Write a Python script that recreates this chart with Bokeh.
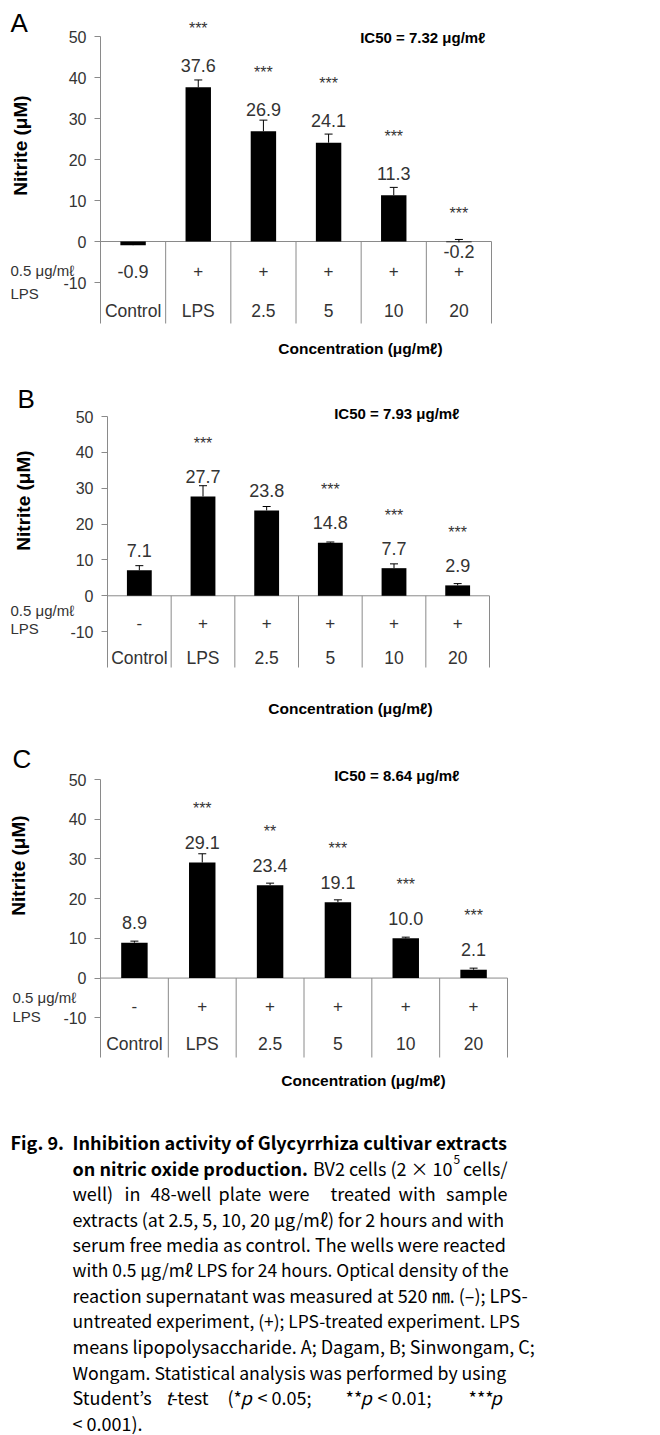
import math
from bokeh.plotting import figure
from bokeh.layouts import column
from bokeh.models import Range1d, FixedTicker, LabelSet, Whisker, TeeHead, ColumnDataSource
from bokeh.embed import file_html
from bokeh.resources import INLINE
from bokeh.core.properties import value

# ---------------- data ----------------
categories = ["Control", "LPS", "2.5", "5", "10", "20"]
ticks = [-10, 0, 10, 20, 30, 40, 50]

a_values = [-0.9, 37.6, 26.9, 24.1, 11.3, -0.2]
a_errors = [0.6, 1.8, 2.7, 2.1, 1.9, 0.7]
a_marks = ["", "+", "+", "+", "+", "+"]
a_stars = ["", "***", "***", "***", "***", "***"]
a_ic50 = "IC50 = 7.32 μg/mℓ"

b_values = [7.1, 27.7, 23.8, 14.8, 7.7, 2.9]
b_errors = [1.3, 3.0, 1.1, 0.2, 1.2, 0.5]
b_marks = ["-", "+", "+", "+", "+", "+"]
b_stars = ["", "***", "", "***", "***", "***"]
b_ic50 = "IC50 = 7.93 μg/mℓ"

c_values = [8.9, 29.1, 23.4, 19.1, 10.0, 2.1]
c_errors = [0.4, 2.2, 0.5, 0.6, 0.3, 0.4]
c_marks = ["-", "+", "+", "+", "+", "+"]
c_stars = ["", "***", "**", "***", "***", "***"]
c_ic50 = "IC50 = 8.64 μg/mℓ"

y_title = "Nitrite (μM)"
x_title = "Concentration (μg/mℓ)"
dose_line1 = "0.5 μg/mℓ"
dose_line2 = "LPS"

# caption: per line (font px, [(text, x in page px | "sup" | "r" | "rsup", style)])
caption = [
    (18.1, [("Fig. 9.", 10, "bold"), ("Inhibition activity of Glycyrrhiza cultivar extracts", 72, "bold")]),
    (18.0, [("on nitric oxide production.", 72, "bold"), ("BV2 cells (2 × 10", "rsup", "normal"),
            ("5", "sup", "normal"), ("cells/", "r", "normal")]),
    (18.0, [("well)", 72, "normal"), ("in", 124, "normal"), ("48-well", 150, "normal"), ("plate", 218, "normal"),
            ("were", 268, "normal"), ("treated", 330, "normal"), ("with", 398, "normal"), ("sample", "r", "normal")]),
    (17.9, [("extracts (at 2.5, 5, 10, 20 μg/mℓ) for 2 hours and with", 72, "normal")]),
    (18.0, [("serum free media as control. The wells were reacted", 72, "normal")]),
    (17.4, [("with 0.5 μg/mℓ LPS for 24 hours. Optical density of the", 72, "normal")]),
    (18.0, [("reaction supernatant was measured at 520 ㎚. (–); LPS-", 72, "normal")]),
    (17.4, [("untreated experiment, (+); LPS-treated experiment. LPS", 72, "normal")]),
    (18.0, [("means lipopolysaccharide. A; Dagam, B; Sinwongam, C;", 72, "normal")]),
    (17.7, [("Wongam. Statistical analysis was performed by using", 72, "normal")]),
    (18.0, [("Student’s", 72, "normal"), ("t", 165, "italic"), ("-test", 171, "normal"),
            ("(*", 227, "normal"), ("p", 240, "italic"), ("< 0.05;", 257, "normal"),
            ("**", 345, "normal"), ("p", 360, "italic"), ("< 0.01;", 377, "normal"),
            ("***", 468, "normal"), ("p", 490, "italic")]),
    (18.0, [("< 0.001).", 72, "normal")]),
]

FONT = "Liberation Sans"
CAP_FONT = "Noto Sans CJK KR"
GRAY = "#8a8a8a"
TXT = "#333333"
W = 660

# page-pixel geometry of each panel: plot box = (x of 0, x of last boundary, y of 50, y of -20)
GEOM = {
    "A": dict(page_top=0, H=362, plot=(100, 491, 36, 323), letter=(10, 22), ic50=(485, 37),
              ylab=(20, 145), dose=(10, 270), lps=(10, 293), marks_y=270, cats_y=310, conc=(360, 348),
              lab_off=[-26, 22, 22, 22, 22, -9], star_off=[59, 59, 59, 59, 59, 28]),
    "B": dict(page_top=362, H=368, plot=(107, 489, 416, 667), letter=(17, 398), ic50=(459, 413),
              ylab=(23, 500), dose=(10, 610), lps=(10, 628), marks_y=622, cats_y=657, conc=(350, 708),
              lab_off=[20] * 6, star_off=[53] * 6),
    "C": dict(page_top=730, H=370, plot=(100, 507, 779, 1057), letter=(12, 758), ic50=(459, 775),
              ylab=(18, 865), dose=(12, 997), lps=(12, 1016), marks_y=1005, cats_y=1043, conc=(363, 1080),
              lab_off=[20] * 6, star_off=[54] * 6),
}


def make_panel(letter, vals, errs, marks, stars, ic50, g):
    n = len(categories)
    H = g["H"]
    ox, xn, y50, ym20 = g["plot"]
    sx = (xn - ox) / n
    sy = (ym20 - y50) / 70.0
    ty = y50 - g["page_top"]
    p = figure(width=W, height=H,
               x_range=Range1d(-ox / sx, (W - ox) / sx),
               y_range=Range1d(50 - (H - ty) / sy, 50 + ty / sy),
               output_backend="svg", toolbar_location=None, x_axis_location=None,
               min_border=0)
    p.outline_line_color = None
    p.grid.visible = False

    def X(px):
        return (px - ox) / sx

    def Y(py):
        return 50 - (py - g["page_top"] - ty) / sy

    yax = p.yaxis[0]
    yax.fixed_location = 0
    yax.ticker = FixedTicker(ticks=ticks)
    yax.major_label_overrides = {t: str(t) for t in ticks}
    yax.axis_line_color = None
    yax.major_tick_line_color = GRAY
    yax.major_tick_out = 6
    yax.major_tick_in = 0
    yax.minor_tick_line_color = None
    yax.major_label_standoff = 8
    yax.major_label_text_font = FONT
    yax.major_label_text_font_size = "16px"
    yax.major_label_text_color = TXT

    xs = [i + 0.5 for i in range(n)]
    bounds = list(range(1, n + 1))
    p.segment(x0=[0], y0=[-20], x1=[0], y1=[50], line_color=GRAY, line_width=1)
    p.segment(x0=[0], y0=[0], x1=[n], y1=[0], line_color=GRAY, line_width=1)
    p.segment(x0=bounds, y0=[0] * n, x1=bounds, y1=[-20] * n, line_color=GRAY, line_width=1)

    p.vbar(x=xs, top=vals, bottom=0, width=0.39, fill_color="black", line_color=None)

    wsrc = ColumnDataSource(dict(x=xs, lower=vals, upper=[v + e for v, e in zip(vals, errs)]))
    p.add_layout(Whisker(base="x", lower="lower", upper="upper", source=wsrc, dimension="height",
                         line_color="black", line_width=1, level="glyph",
                         upper_head=TeeHead(size=8, line_color="black", line_width=1), lower_head=None))

    lsrc = ColumnDataSource(dict(x=xs, y=vals, text=[f"{v:.1f}" for v in vals], off=g["lab_off"]))
    p.add_layout(LabelSet(x="x", y="y", text="text", y_offset="off", source=lsrc,
                          text_align="center", text_baseline="middle", text_font=value(FONT),
                          text_font_size="18px", text_color=TXT))
    ssrc = ColumnDataSource(dict(x=xs, y=[max(v, 0) for v in vals], text=stars, off=g["star_off"]))
    p.add_layout(LabelSet(x="x", y="y", text="text", y_offset="off", source=ssrc,
                          text_align="center", text_baseline="middle", text_font=value(FONT),
                          text_font_size="16px", text_color=TXT))

    def txt(x, y, t, size, align="center", bold=False, color=TXT, angle=0.0):
        p.text(x=[x], y=[y], text=[t], angle=angle, text_align=align, text_baseline="middle",
               text_font=value(FONT), text_font_size=size,
               text_font_style="bold" if bold else "normal", text_color=color)

    p.text(x=xs, y=[Y(g["marks_y"])] * n, text=marks, text_align="center", text_baseline="middle",
           text_font=value(FONT), text_font_size="17px", text_color=TXT)
    p.text(x=xs, y=[Y(g["cats_y"])] * n, text=categories, text_align="center", text_baseline="middle",
           text_font=value(FONT), text_font_size="17.5px", text_color=TXT)

    txt(X(g["letter"][0]), Y(g["letter"][1]), letter, "26px", align="left", color="black")
    txt(X(g["ic50"][0]), Y(g["ic50"][1]), ic50, "15px", align="right", bold=True, color="black")
    txt(X(g["ylab"][0]), Y(g["ylab"][1]), y_title, "19px", bold=True, color="black", angle=math.pi / 2)
    txt(X(g["dose"][0]), Y(g["dose"][1]), dose_line1, "15px", align="left")
    txt(X(g["lps"][0]), Y(g["lps"][1]), dose_line2, "15px", align="left")
    txt(X(g["conc"][0]), Y(g["conc"][1]), x_title, "15.5px", bold=True, color="black")
    return p


pA = make_panel("A", a_values, a_errors, a_marks, a_stars, a_ic50, GEOM["A"])
pB = make_panel("B", b_values, b_errors, b_marks, b_stars, b_ic50, GEOM["B"])
pC = make_panel("C", c_values, c_errors, c_marks, c_stars, c_ic50, GEOM["C"])

# ---------------- caption ----------------
CAP_TOP = 1100
CH = 1435 - CAP_TOP
pc = figure(width=W, height=CH, x_range=Range1d(0, W), y_range=Range1d(CH, 0),
            output_backend="svg", toolbar_location=None, x_axis_location=None, y_axis_location=None,
            min_border=0)
pc.outline_line_color = None
pc.grid.visible = False
for i, (fsize, segs) in enumerate(caption):
    base = 1141.5 + 25.5 * i - CAP_TOP
    for t, xpos, style in segs:
        size = f"{fsize}px"
        align = "left"
        yy = base
        if xpos == "sup":
            xpos, size, yy = 453, "12px", base - 8
        elif xpos == "rsup":
            xpos, align = 452, "right"
        elif xpos == "r":
            xpos, align = 507, "right"
        pc.text(x=[xpos], y=[yy], text=[t], text_align=align, text_baseline="alphabetic",
                text_font=value(CAP_FONT), text_font_size=size, text_font_style=style,
                text_color="black")

layout = column(pA, pB, pC, pc, spacing=0)
open("out.html", "w").write(file_html(layout, INLINE))
